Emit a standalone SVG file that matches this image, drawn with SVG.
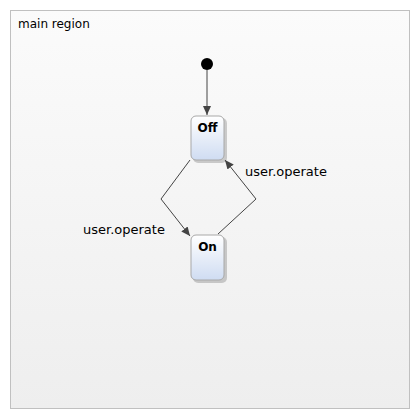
<svg xmlns="http://www.w3.org/2000/svg" width="420" height="420" viewBox="0 0 420 420">
<style>
.lbl{font-family:"DejaVu Sans",Verdana,sans-serif;font-size:13px;fill:#000}
.st{font-family:"DejaVu Sans",Verdana,sans-serif;font-size:12px;font-weight:bold;fill:#000;text-anchor:middle}
.box{fill:url(#sg);stroke:#a8a8a8;stroke-width:1}
.shadow{fill:#000;opacity:0.18}
.conn{fill:none;stroke:#444;stroke-width:1}
</style>
<defs>
<linearGradient id="rg" x1="0" y1="0" x2="0" y2="1">
<stop offset="0" stop-color="#fbfbfb"/>
<stop offset="1" stop-color="#eeeeee"/>
</linearGradient>
<linearGradient id="sg" x1="0" y1="0" x2="0" y2="1">
<stop offset="0" stop-color="#ffffff"/>
<stop offset="1" stop-color="#cfdcf2"/>
</linearGradient>
<marker id="arr" markerWidth="10" markerHeight="10" refX="9" refY="5" orient="auto" markerUnits="userSpaceOnUse">
<path d="M0,1 L9,5 L0,9 Z" fill="#444"/>
</marker>
</defs>
<g id="region">
<rect x="10.5" y="10.5" width="399" height="398" fill="url(#rg)" stroke="#c0c0c0" stroke-width="1"/>
<text class="lbl" x="18" y="28" style="font-size:12px">main region</text>
</g>
<g id="initial">
<circle cx="207" cy="64" r="6" fill="#000"/>
</g>
<g id="Off">
<rect class="shadow" x="193" y="118" width="34" height="45" rx="5"/>
<rect class="box" x="191" y="116" width="33" height="44" rx="5"/>
<text class="st" x="207.5" y="132">Off</text>
</g>
<g id="On">
<rect class="shadow" x="193" y="237" width="34" height="46" rx="5"/>
<rect class="box" x="191" y="235" width="33" height="45" rx="5"/>
<text class="st" x="207.5" y="251">On</text>
</g>
<g id="connectors">
<path class="conn" d="M207,70 L207,115" marker-end="url(#arr)"/>
<path class="conn" d="M190,160 L161,199 L190,236" marker-end="url(#arr)"/>
<path class="conn" d="M218,234 L256,199 L225,160" marker-end="url(#arr)"/>
<text class="lbl" x="83" y="234">user.operate</text>
<text class="lbl" x="245" y="176">user.operate</text>
</g>
</svg>
